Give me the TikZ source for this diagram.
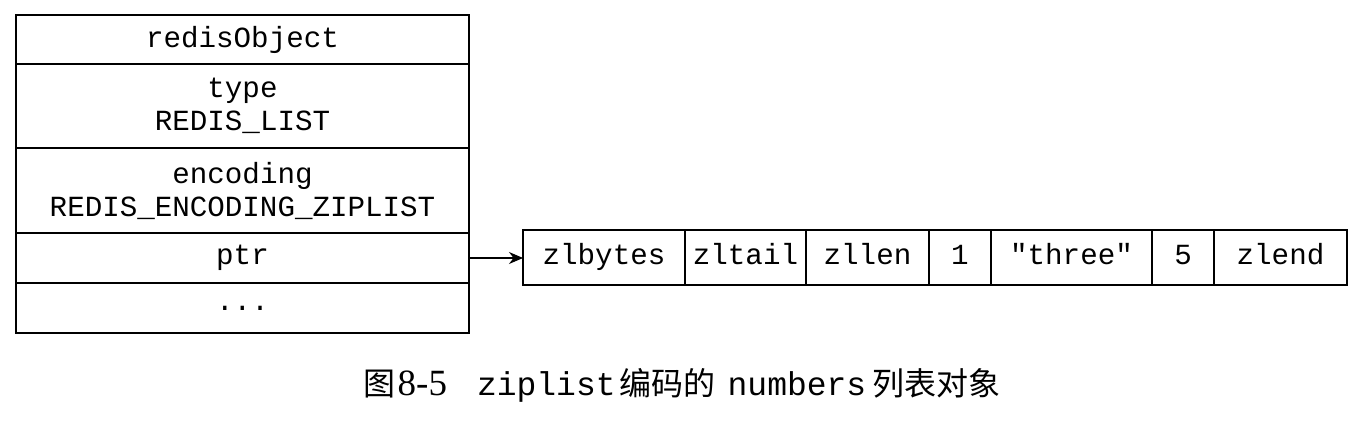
\documentclass[tikz,border=0pt]{standalone}
\usepackage{fontspec}
\setmainfont{Liberation Serif}
\setmonofont{Liberation Mono}
\newfontfamily\cjk{Noto Sans CJK SC}
\usetikzlibrary{arrows.meta}
\usetikzlibrary{positioning}
\tikzset {
  box/.style = {
    draw = black,
    line width = 1pt,
    rectangle,
    inner sep = 0,
    outer sep = 0,
    align = center,
    font = \fontsize{14.6}{16.5}\selectfont\ttfamily
  },
  % one field of the redisObject
  field/.style = {
    box,
    minimum width = 226.5pt,
    minimum height = #1
  },
  % one entry of the ziplist
  cell/.style = {
    box,
    text height = 0.85em,
    text depth = 0.2em,
    minimum height = 27.5pt,
    minimum width = #1
  },
  ptr arrow/.style = {
    draw = black,
    line width = 0.6pt,
    -{Stealth[length = 7pt, width = 6pt]}
  },
  node distance = 0pt
}
\newcommand{\captt}[1]{{\fontsize{16.5}{18}\selectfont\ttfamily #1}}

\begin{document}
\begin{tikzpicture}
    \useasboundingbox (0,0) rectangle (677.5pt,-211pt);

    % redisObject
    \node[field = 24.5pt, anchor = north west] (obj) at (8pt,-7.5pt) {redisObject};
    \node[field = 42pt] (type) [below=of obj] {type\\REDIS\_LIST};
    \node[field = 42.5pt] (encoding) [below=of type] {encoding\\REDIS\_ENCODING\_ZIPLIST};
    \node[field = 25pt] (ptr) [below=of encoding] {ptr};
    \node[field = 25pt] (dots) [below=of ptr] {...};

    % ziplist
    \node[cell = 81pt] (zlbytes) [right=27pt of ptr] {zlbytes};
    \node[cell = 60.5pt] (zltail) [right=of zlbytes] {zltail};
    \node[cell = 61.5pt] (zllen) [right=of zltail] {zllen};
    \node[cell = 31pt] (entry 1) [right=of zllen] {1};
    \node[cell = 80.5pt] (entry 2) [right=of entry 1] {"three"};
    \node[cell = 31pt] (entry 3) [right=of entry 2] {5};
    \node[cell = 66.5pt] (zlend) [right=of entry 3] {zlend};

    \draw[ptr arrow] (ptr) -- (zlbytes);

    % caption
    \node[font = \fontsize{16}{18}\selectfont, inner sep = 0] (caption) at (341pt,-192.5pt)
      {{\cjk 图}\hspace{1pt}{\fontsize{18.5}{18}\selectfont 8-5}\hspace{15pt}\captt{ziplist}\hspace{2pt}{\cjk 编码的}\hspace{6pt}\captt{numbers}\hspace{3pt}{\cjk 列表对象}};
\end{tikzpicture}
\end{document}
